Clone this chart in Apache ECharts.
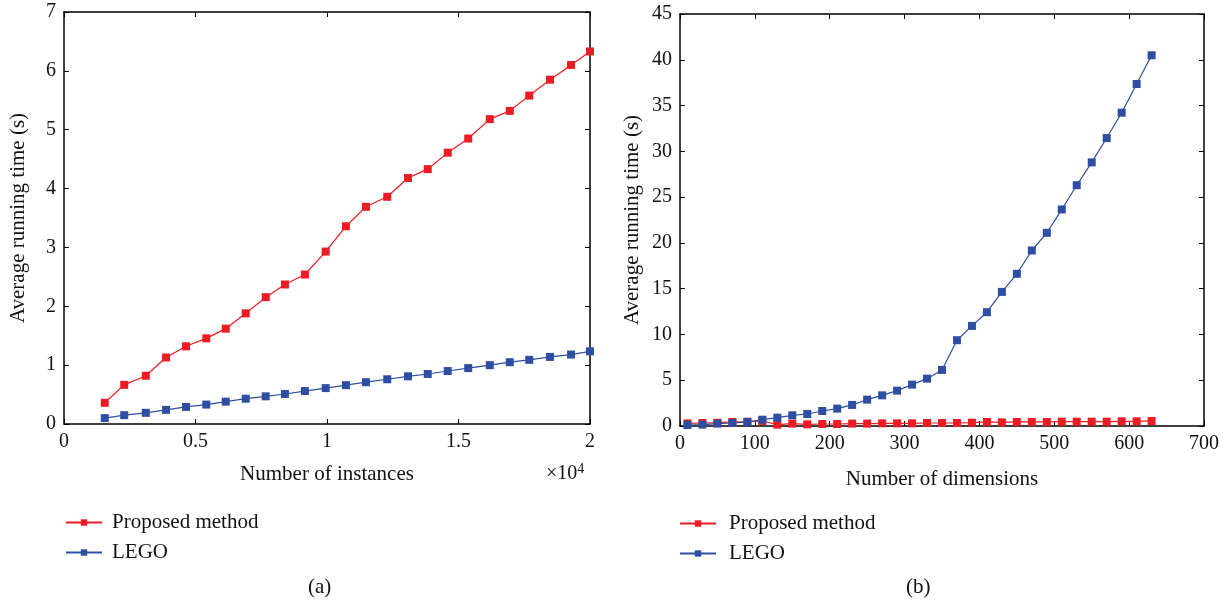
<!DOCTYPE html>
<html>
<head>
<meta charset="utf-8">
<script src="https://cdn.jsdelivr.net/npm/echarts@6/dist/echarts.min.js"></script>
<style>
  html, body { margin: 0; padding: 0; background: #fff; }
  #main { width: 1228px; height: 608px; }
</style>
</head>
<body>
<div id="main"></div>
<script>
// (a) 样本数量 (x 单位 10^4)
var instX = [0.155, 0.229, 0.311, 0.388, 0.464, 0.541, 0.615, 0.691, 0.767, 0.840, 0.916, 0.995, 1.072,
  1.148, 1.229, 1.308, 1.383, 1.459, 1.537, 1.619, 1.695, 1.769, 1.848, 1.928, 2.0]
var instProposed = [0.36, 0.665, 0.82, 1.13, 1.32, 1.455, 1.62, 1.88, 2.155, 2.37, 2.54, 2.93, 3.36,
  3.69, 3.86, 4.18, 4.33, 4.61, 4.85, 5.18, 5.32, 5.58, 5.85, 6.10, 6.33]
var instLego = [0.10, 0.15, 0.19, 0.24, 0.29, 0.33, 0.38, 0.43, 0.47, 0.51, 0.56, 0.61, 0.66,
  0.71, 0.76, 0.81, 0.85, 0.90, 0.95, 1.00, 1.05, 1.09, 1.14, 1.18, 1.235]

// (b) 维度数量
var dimX = [10, 30, 50, 70, 90, 110, 130, 150, 170, 190, 210, 230, 250, 270, 290, 310,
  330, 350, 370, 390, 410, 430, 450, 470, 490, 510, 530, 550, 570, 590, 610, 630]
var dimProposed = [0.28, 0.33, 0.36, 0.44, 0.47, 0.55, 0.15, 0.26, 0.18, 0.22, 0.22, 0.26, 0.26, 0.29, 0.29, 0.29,
  0.33, 0.33, 0.33, 0.36, 0.44, 0.40, 0.44, 0.44, 0.44, 0.47, 0.47, 0.47, 0.47, 0.51, 0.51, 0.55]
var dimLego = [0.11, 0.15, 0.26, 0.33, 0.44, 0.69, 0.91, 1.17, 1.31, 1.64, 1.90, 2.30, 2.88, 3.35, 3.86, 4.52,
  5.17, 6.12, 9.37, 10.93, 12.43, 14.65, 16.62, 19.17, 21.10, 23.65, 26.30, 28.79, 31.45, 34.22, 37.35, 40.49]

var seriesNames = ['Proposed method', 'LEGO']
var red = '#ec1c24'
var blue = '#2d4ea2'
var font = "'Liberation Serif', 'DejaVu Serif', serif"

function pairs (xs, ys) {
  var out = []
  for (var i = 0; i < xs.length; i++) out.push([xs[i], ys[i]])
  return out
}

// 主轴 + 对边只画刻度的辅助轴，组成封闭的框
function boxAxes (gridIndex, min, max, interval, isX, name, nameGap) {
  var main = {
    type: 'value', gridIndex: gridIndex, min: min, max: max, interval: interval,
    position: isX ? 'bottom' : 'left',
    name: name, nameLocation: 'middle', nameGap: nameGap,
    nameTextStyle: { fontFamily: font, fontSize: 21, color: '#111' },
    axisLine: { show: true, onZero: false, lineStyle: { color: '#000', width: 1.5 } },
    axisTick: { show: true, inside: true, length: 5, lineStyle: { color: '#000', width: 1 } },
    axisLabel: { fontFamily: font, fontSize: 20, color: '#111', margin: 8 },
    splitLine: { show: false }
  }
  var other = {
    type: 'value', gridIndex: gridIndex, min: min, max: max, interval: interval,
    position: isX ? 'top' : 'right',
    axisLine: { show: true, onZero: false, lineStyle: { color: '#000', width: 1.5 } },
    axisTick: { show: true, inside: true, length: 5, lineStyle: { color: '#000', width: 1 } },
    axisLabel: { show: false },
    splitLine: { show: false }
  }
  return [main, other]
}

function lineSeries (name, color, xi, yi, data) {
  return {
    name: name, type: 'line', xAxisIndex: xi, yAxisIndex: yi,
    data: data, symbol: 'rect', symbolSize: 8,
    itemStyle: { color: color },
    lineStyle: { color: color, width: 1.2 },
    animation: false
  }
}

var xa = boxAxes(0, 0, 2, 0.5, true, 'Number of instances', 40)
var xb = boxAxes(1, 0, 700, 100, true, 'Number of dimensions', 43)
var ya = boxAxes(0, 0, 7, 1, false, 'Average running time (s)', 35)
var yb = boxAxes(1, 0, 45, 5, false, 'Average running time (s)', 37)

var legendCommon = {
  orient: 'vertical',
  data: seriesNames,
  itemWidth: 36,
  itemHeight: 8,
  itemGap: 9
}

var myChart = echarts.init(document.getElementById('main'))
var option = {
  backgroundColor: '#fff',
  animation: false,
  grid: [
    { left: 64, right: 638, top: 12, bottom: 184 },
    { left: 680, right: 24, top: 14, bottom: 182 }
  ],
  xAxis: [xa[0], xa[1], xb[0], xb[1]],
  yAxis: [ya[0], ya[1], yb[0], yb[1]],
  legend: [
    Object.assign({ left: 60, top: 507,
      textStyle: { fontFamily: font, fontSize: 21, color: '#111', padding: [0, 0, 0, 5] } }, legendCommon),
    Object.assign({ left: 674, top: 508,
      textStyle: { fontFamily: font, fontSize: 21, color: '#111', padding: [0, 0, 0, 8] } }, legendCommon)
  ],
  series: [
    lineSeries(seriesNames[0], red, 0, 0, pairs(instX, instProposed)),
    lineSeries(seriesNames[1], blue, 0, 0, pairs(instX, instLego)),
    lineSeries(seriesNames[0], red, 2, 2, pairs(dimX, dimProposed)),
    lineSeries(seriesNames[1], blue, 2, 2, pairs(dimX, dimLego))
  ],
  graphic: [
    {
      type: 'text', left: 546, top: 462,
      style: {
        text: '×10{sup|4}',
        fontFamily: font, fontSize: 20, fill: '#111',
        rich: { sup: { fontFamily: font, fontSize: 14, fill: '#111', verticalAlign: 'top', padding: [0, 0, 10, 0] } }
      }
    },
    { type: 'text', left: 308, top: 577, style: { text: '(a)', fontFamily: font, fontSize: 21, fill: '#111' } },
    { type: 'text', left: 906, top: 577, style: { text: '(b)', fontFamily: font, fontSize: 21, fill: '#111' } }
  ]
}
myChart.setOption(option)
</script>
</body>
</html>
